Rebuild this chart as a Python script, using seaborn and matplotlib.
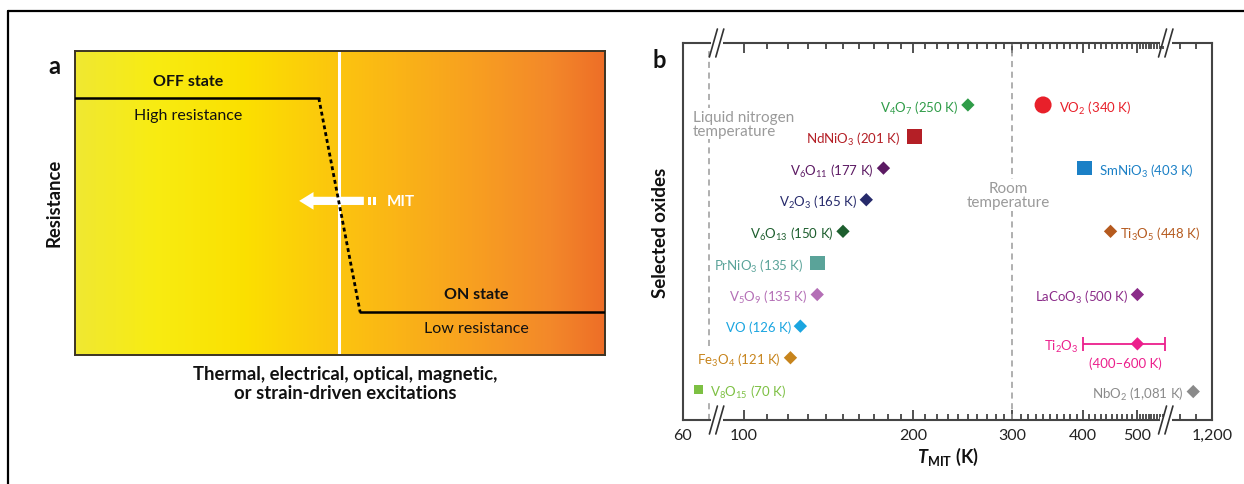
import numpy as np
import pandas as pd
import matplotlib
matplotlib.use("Agg")
import matplotlib.pyplot as plt
import seaborn as sns
from matplotlib.colors import LinearSegmentedColormap
from matplotlib.lines import Line2D
from matplotlib.patches import FancyArrow, Rectangle
from matplotlib.transforms import IdentityTransform

# ---------------- panel a data (schematic) ----------------
state_x = [0.0, 0.46, 0.538, 1.0]
state_y = [0.845, 0.845, 0.141, 0.141]
gradient_stops = [0.0, 0.15, 0.32, 0.5, 0.75, 0.9, 1.0]
gradient_colors = ["#f0e832", "#f8ec12", "#fbe000", "#fcc40f", "#f8a020", "#f3882a", "#ee6e27"]
transition_x = 0.498
arrow_tail, arrow_tip, arrow_y = 0.545, 0.423, 0.507

# ---------------- panel b data ----------------
oxides = ["V4O7", "VO2", "NdNiO3", "V6O11", "SmNiO3", "V2O3", "V6O13", "Ti3O5",
          "PrNiO3", "V5O9", "LaCoO3", "VO", "Ti2O3", "Fe3O4", "V8O15", "NbO2"]
t_mit = [250, 340, 201, 177, 403, 165, 150, 448, 135, 135, 500, 126, 500, 121, 70, 1081]
rows = [0, 0, 1, 2, 2, 3, 4, 4, 5, 6, 6, 7, 7.56, 8, 9, 9.07]
shapes = ["D", "o", "s", "D", "s", "D", "D", "D", "s", "D", "D", "D", "D", "D", "ss", "D"]
colors = ["#2f9c48", "#e8202a", "#b41f26", "#5c1a63", "#1b80c6", "#262a6b", "#1d5e2e", "#b55a1e",
          "#5aa399", "#b46fb6", "#8b2c89", "#1aa5e0", "#ec1f8c", "#c7841c", "#7dc043", "#8a8a8a"]
label_texts = [r"V$_4$O$_7$ (250 K)", r"VO$_2$ (340 K)", r"NdNiO$_3$ (201 K)", r"V$_6$O$_{11}$ (177 K)",
               r"SmNiO$_3$ (403 K)", r"V$_2$O$_3$ (165 K)", r"V$_6$O$_{13}$ (150 K)", r"Ti$_3$O$_5$ (448 K)",
               r"PrNiO$_3$ (135 K)", r"V$_5$O$_9$ (135 K)", r"LaCoO$_3$ (500 K)", r"VO (126 K)",
               r"Ti$_2$O$_3$", r"Fe$_3$O$_4$ (121 K)", r"V$_8$O$_{15}$ (70 K)", r"NbO$_2$ (1,081 K)"]
label_side = ["L", "R", "L", "L", "R", "L", "L", "R", "L", "L", "L", "L", "L", "L", "R", "L"]
ti2o3_range = [400, 600]
ti2o3_range_label = "(400–600 K)"
x_ticks = [60, 100, 200, 300, 400, 500, 1200]
x_ticklabels = ["60", "100", "200", "300", "400", "500", "1,200"]
liquid_n2_T = 77
room_T = 300

# ---------------- style ----------------
sns.set_style("white")
plt.rcParams["font.family"] = ["Lato", "DejaVu Sans"]
plt.rcParams["mathtext.fontset"] = "custom"
plt.rcParams["mathtext.rm"] = "Lato"
plt.rcParams["mathtext.it"] = "Lato:italic"
plt.rcParams["mathtext.bf"] = "Lato:bold"
plt.rcParams["mathtext.bfit"] = "Lato:bold:italic"
LAB = ["Lato", "DejaVu Sans"]

fig = plt.figure(figsize=(12.44, 4.85), dpi=100)
W, H = 1244, 485

# ---------------- broken-axis scale ----------------
P500 = 245 * np.log(5.0)
P600 = P500 + 100 * 0.28
P912 = P600 + 312 * 0.004


def fwd(T):
    T = np.asarray(T, dtype=float)
    Tl = np.clip(T, 100, 500)
    p = np.select(
        [T < 82, T < 100, T <= 500, T <= 600, T <= 912],
        [-27.3 + (T - 82) * 1.53,
         -27.3 + (T - 82) * (27.3 / 18),
         245 * np.log(Tl / 100),
         P500 + (T - 500) * 0.28,
         P600 + (T - 600) * 0.004],
        default=P912 + (T - 912) * 0.158)
    return p


_Tg = np.unique(np.concatenate([np.linspace(-5000, 100, 4000), np.geomspace(100, 500, 4000),
                                np.linspace(500, 50000, 20000)]))
_Pg = fwd(_Tg)


def inv(p):
    return np.interp(np.asarray(p, dtype=float), _Pg, _Tg)


# ================= panel a =================
axa = fig.add_axes([75 / W, (H - 356) / H, 530 / W, 304 / H])
cmap = LinearSegmentedColormap.from_list("mit", list(zip(gradient_stops, gradient_colors)))
axa.imshow(np.linspace(0, 1, 512)[None, :], cmap=cmap, aspect="auto", extent=[0, 1, 0, 1], zorder=0)
axa.axvline(transition_x, color="white", lw=2.2, zorder=1)
axa.add_patch(FancyArrow(arrow_tail, arrow_y, arrow_tip - arrow_tail, 0, width=0.027,
                         head_width=0.058, head_length=0.027, length_includes_head=True,
                         color="white", lw=0, zorder=2))
for bx in (0.553, 0.563):
    axa.add_patch(Rectangle((bx, arrow_y - 0.0135), 0.0055, 0.027, color="white", lw=0, zorder=2))
axa.text(0.589, arrow_y, "MIT", color="white", fontweight="bold", fontsize=11,
         ha="left", va="center", zorder=3)
sns.lineplot(x=state_x[0:2], y=state_y[0:2], color="black", lw=1.8, ax=axa, sort=False, zorder=4)
sns.lineplot(x=state_x[1:3], y=state_y[1:3], color="black", lw=2.0, ax=axa, sort=False, zorder=4,
             dashes=False, linestyle=(0, (1.4, 1.1)))
sns.lineplot(x=state_x[2:4], y=state_y[2:4], color="black", lw=1.8, ax=axa, sort=False, zorder=4)
axa.text(0.213, 0.90, "OFF state", fontweight="bold", fontsize=11.5, ha="center", va="center", color="#111")
axa.text(0.213, 0.79, "High resistance", fontsize=11.5, ha="center", va="center", color="#111")
axa.text(0.758, 0.20, "ON state", fontweight="bold", fontsize=11.5, ha="center", va="center", color="#111")
axa.text(0.758, 0.089, "Low resistance", fontsize=11.5, ha="center", va="center", color="#111")
axa.set_xlim(0, 1)
axa.set_ylim(0, 1)
axa.set_xticks([])
axa.set_yticks([])
for s in axa.spines.values():
    s.set_color("#3c3424")
    s.set_linewidth(1.4)
    s.set_visible(True)
fig.text(345 / W, 1 - 384 / H, "Thermal, electrical, optical, magnetic,\nor strain-driven excitations",
         ha="center", va="center", fontweight="bold", fontsize=13.3, linespacing=1.1, color="#111")
fig.text(54 / W, 1 - 203 / H, "Resistance", rotation=90, ha="center", va="center",
         fontweight="bold", fontsize=13.3, color="#111")
fig.text(54 / W, 1 - 66 / H, "a", ha="center", va="center", fontweight="bold", fontsize=17, color="#111")

# ================= panel b =================
axb = fig.add_axes([683 / W, (H - 421) / H, 529 / W, 377 / H])
axb.set_xscale("function", functions=(fwd, inv))
axb.set_xlim(60, 1200)
axb.set_ylim(9.97, -1.96)

df = pd.DataFrame({"oxide": oxides, "T": t_mit, "row": rows, "shape": shapes})
sns.scatterplot(data=df, x="T", y="row", hue="oxide", palette=dict(zip(oxides, colors)),
                style="shape", markers={"D": "D", "o": "o", "s": "s", "ss": "s"},
                size="shape", sizes={"D": 46, "o": 150, "s": 112, "ss": 40},
                linewidth=0, legend=False, ax=axb, zorder=5, clip_on=False)

i_ti = oxides.index("Ti2O3")
axb.errorbar([t_mit[i_ti]], [rows[i_ti]],
             xerr=[[t_mit[i_ti] - ti2o3_range[0]], [ti2o3_range[1] - t_mit[i_ti]]],
             fmt="none", ecolor=colors[i_ti], elinewidth=1.3, capsize=5, capthick=1.3, zorder=4)

FS = 9.5
offs = {"D": 6.8, "s": 10.0, "o": 11.5, "ss": 8.5}
for name, T, r, sh, c, txt, side in zip(oxides, t_mit, rows, shapes, colors, label_texts, label_side):
    if name == "Ti2O3":
        axb.annotate(txt, (ti2o3_range[0], r), xytext=(-3, 0), textcoords="offset points",
                     ha="right", va="center_baseline", color=c, fontsize=FS)
        axb.annotate(ti2o3_range_label, (T, r), xytext=(-9, -13), textcoords="offset points",
                     ha="center", va="center_baseline", color=c, fontsize=FS)
        continue
    o = offs[sh]
    if side == "L":
        axb.annotate(txt, (T, r), xytext=(-o, 0), textcoords="offset points",
                     ha="right", va="center_baseline", color=c, fontsize=FS)
    else:
        axb.annotate(txt, (T, r), xytext=(o, 0), textcoords="offset points",
                     ha="left", va="center_baseline", color=c, fontsize=FS)

# reference temperature lines
gray = "#9a9a9a"
axb.axvline(liquid_n2_T, ymin=0.196, ymax=0.985, color=gray, lw=1.1, ls=(0, (4, 3)), zorder=1)
axb.axvline(liquid_n2_T, ymin=0.0, ymax=0.056, color=gray, lw=1.1, ls=(0, (4, 3)), zorder=1)
axb.axvline(room_T, ymin=0.0, ymax=1.0, color=gray, lw=1.1, ls=(0, (4, 3)), zorder=1)
axb.annotate("Liquid nitrogen\ntemperature", (liquid_n2_T, 0.6), xytext=(-11.5, 0),
             textcoords="offset points", ha="left", va="center", color=gray, fontsize=11,
             linespacing=1.0, zorder=3,
             bbox=dict(boxstyle="square,pad=0.1", fc="white", ec="none"))
axb.annotate("Room\ntemperature", (room_T, 2.85), xytext=(-3, 0),
             textcoords="offset points", ha="center", va="center", color=gray, fontsize=11,
             linespacing=1.0, zorder=3,
             bbox=dict(boxstyle="square,pad=0.15", fc="white", ec="none"))

# ticks
minor = [t for t in range(110, 600, 10) if t % 100 != 0] + [1000, 1100]
axb.set_xticks(x_ticks)
axb.set_xticklabels(x_ticklabels)
axb.set_xticks(minor, minor=True)
axb.set_xticklabels([], minor=True)
axb.set_yticks([])
axb.tick_params(axis="x", which="both", direction="in", top=True, bottom=True,
                color="#333", width=1.2, labelsize=11.5, labelcolor="#222", pad=6)
axb.tick_params(axis="x", which="major", length=7)
axb.tick_params(axis="x", which="minor", length=4)
for s in axb.spines.values():
    s.set_color("#444")
    s.set_linewidth(1.5)
    s.set_visible(True)
axb.set_xlabel(r"$\bfit{T}_{\mathbf{MIT}}$ (K)", fontweight="bold", fontsize=13, labelpad=2, color="#111")
axb.set_ylabel("Selected oxides", fontweight="bold", fontsize=13.5, labelpad=10, color="#111")
fig.text(659 / W, 1 - 60 / H, "b", ha="center", va="center", fontweight="bold", fontsize=17, color="#111")

# axis break marks (drawn in display pixels)
yt = axb.transAxes.transform((0, 1))[1]
yb = axb.transAxes.transform((0, 0))[1]
for Tb in (82, 700):
    xc = axb.transData.transform((Tb, 0))[0]
    for y0 in (yt, yb):
        fig.add_artist(Rectangle((xc - 6, y0 - 3), 12, 6, transform=IdentityTransform(),
                                 fc="white", ec="none", zorder=10))
        for dx in (-3.2, 3.2):
            fig.add_artist(Line2D([xc + dx - 4, xc + dx + 4], [y0 - 14, y0 + 14],
                                  transform=IdentityTransform(), color="#333", lw=1.2, zorder=11))

# figure frame
fig.add_artist(Line2D([8 / W, 1], [1 - 12 / H, 1 - 12 / H], transform=fig.transFigure, color="black", lw=1.6))
fig.add_artist(Line2D([8 / W, 8 / W], [0, 1 - 12 / H], transform=fig.transFigure, color="black", lw=1.6))

fig.savefig("out.png", dpi=100)
